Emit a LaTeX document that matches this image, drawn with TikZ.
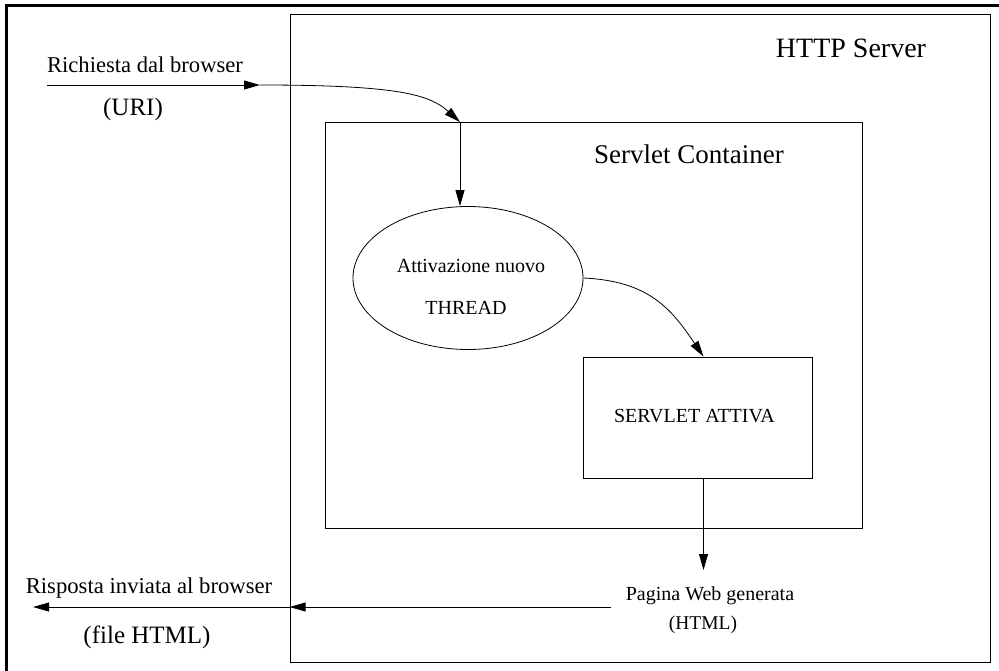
\documentclass[tikz,border=0pt]{standalone}
\usepackage{fontspec}
\setmainfont{Liberation Serif}
\usetikzlibrary{arrows.meta}
\usetikzlibrary{shapes.geometric}

\begin{document}
\begin{tikzpicture}[x=1pt, y=-1pt,
    box/.style={draw, line width=0.8pt, inner sep=0pt},
    lbl/.style={inner sep=0pt, anchor=base},
    flow/.style={line width=0.8pt, -{Triangle[length=16pt, width=9pt]}}]
  \useasboundingbox (0,0) rectangle (999,670);
  \draw[line width=3.5pt] (6.5,672) -- (6.5,5.5) -- (1001,5.5);

  \node[box, minimum width=700pt, minimum height=648pt] (server) at (640,338) {};
  \node[box, minimum width=537pt, minimum height=406pt] (container) at (593.5,325) {};
  \node[box, ellipse, minimum width=230pt, minimum height=143pt] (thread) at (468,278) {};
  \node[box, minimum width=229pt, minimum height=121pt] (servlet) at (697.5,417.5) {};

  \node[lbl, font=\fontsize{28}{30}\selectfont] (servername) at (851,57) {HTTP Server};
  \node[lbl, font=\fontsize{27}{30}\selectfont] (containername) at (689,163) {Servlet Container};
  \node[lbl, font=\fontsize{20}{24}\selectfont] (thread1) at (471,272) {Attivazione nuovo};
  \node[lbl, font=\fontsize{20}{24}\selectfont] (thread2) at (466,314) {THREAD};
  \node[lbl, font=\fontsize{20}{24}\selectfont] (servletname) at (694.5,422) {SERVLET ATTIVA};
  \node[lbl, font=\fontsize{22.6}{26}\selectfont] (req) at (145,72) {Richiesta dal browser};
  \node[lbl, font=\fontsize{25}{28}\selectfont] (uri) at (133,115) {(URI)};
  \node[lbl, font=\fontsize{20}{24}\selectfont] (page) at (710,600) {Pagina Web generata};
  \node[lbl, font=\fontsize{19.5}{24}\selectfont] (pagehtml) at (703,629) {(HTML)};
  \node[lbl, font=\fontsize{22.7}{26}\selectfont] (resp) at (149,593) {Risposta inviata al browser};
  \node[lbl, font=\fontsize{25}{28}\selectfont] (resphtml) at (147,643) {(file HTML)};

  \coordinate (reqstart) at (47,85);
  \coordinate (reqend) at (260,85);
  \coordinate (containerin) at (460,122);
  \coordinate (pagetop) at (703.5,570);
  \coordinate (pageout) at (611,607);
  \coordinate (browserout) at (33,607);

  \draw[flow] (reqstart) -- (reqend);
  \draw[flow] (reqend) .. controls (400,85) and (430,95) .. (containerin);
  \draw[flow] (containerin) -- (containerin |- thread.north);
  \draw[flow] (thread.east) .. controls (650,281) and (672,310) .. ([xshift=6pt]servlet.north);
  \draw[flow] ([xshift=6pt]servlet.south) -- (pagetop);
  \draw[flow] (pageout) -- (server.west |- pageout);
  \draw[flow] (server.west |- pageout) -- (browserout);
\end{tikzpicture}
\end{document}
